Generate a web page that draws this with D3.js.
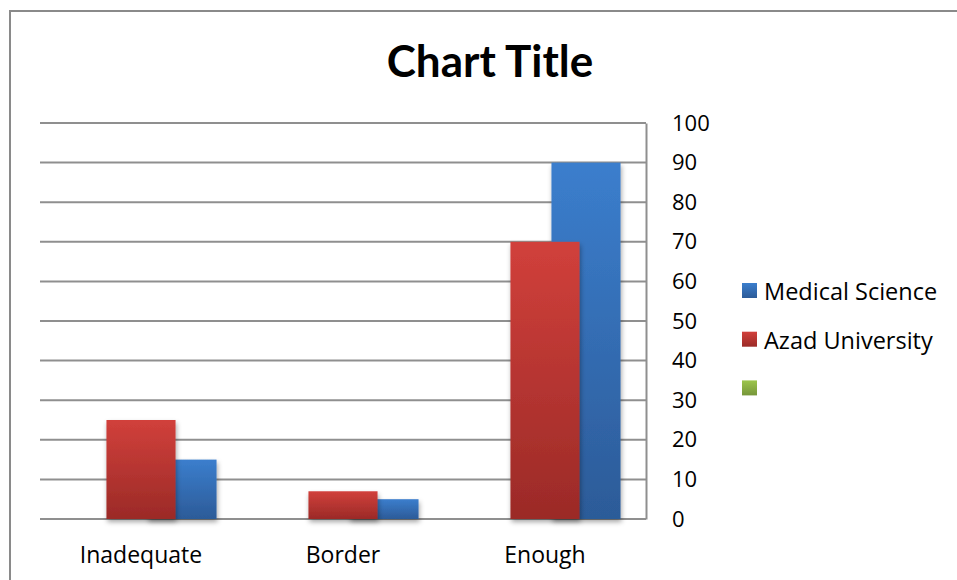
<!DOCTYPE html>
<html lang="en">
  <head>
    <meta charset="utf-8">
    <script src="https://d3js.org/d3.v7.min.js"></script>
    <style>
      body { margin: 0; background: #fff; }
      text { font-family: "Open Sans", Lato, sans-serif; fill: #000; }
    </style>
  </head>
  <body>
    <svg width="957" height="580"></svg>
    <script>
      // data
      var categories = ["Inadequate", "Border", "Enough"];
      var seriesNames = ["Medical Science", "Azad University", ""];
      var medical = [15, 5, 90];
      var azad = [25, 7, 70];
      var third = [0, 0, 0];
      var yTickValues = [0, 10, 20, 30, 40, 50, 60, 70, 80, 90, 100];

      var svg = d3.select("svg");

      // chart frame
      svg.append("rect")
        .attr("x", 10).attr("y", 11)
        .attr("width", 1000).attr("height", 1000)
        .attr("fill", "#fff")
        .attr("stroke", "#8a8a8a")
        .attr("stroke-width", 2);

      // gradients + shadow
      var defs = svg.append("defs");
      function grad(id, top, bottom) {
        var g = defs.append("linearGradient").attr("id", id)
          .attr("x1", 0).attr("y1", 0).attr("x2", 0).attr("y2", 1);
        g.append("stop").attr("offset", "0%").attr("stop-color", top);
        g.append("stop").attr("offset", "100%").attr("stop-color", bottom);
      }
      grad("gBlue", "#3b7ecd", "#2c5b98");
      grad("gRed", "#d1403b", "#9b2a27");
      grad("gGreen", "#9cc54b", "#76963a");
      var f = defs.append("filter").attr("id", "shadow")
        .attr("x", "-20%").attr("y", "-20%").attr("width", "150%").attr("height", "150%");
      f.append("feDropShadow")
        .attr("dx", 1).attr("dy", 3).attr("stdDeviation", 2.5)
        .attr("flood-color", "#000").attr("flood-opacity", 0.35);

      // scales
      var x = d3.scaleBand().domain(categories).range([40, 646]);
      var y = d3.scaleLinear().domain([0, 100]).range([519, 123]);
      // axis on the right reverses the series order inside a group
      var slot = d3.scalePoint().domain(["third", "azad", "medical"])
        .range([-x.bandwidth() * 0.203, x.bandwidth() * 0.203]);
      var barW = x.bandwidth() * 0.342;

      // gridlines
      svg.append("g")
        .selectAll("line")
        .data(yTickValues)
        .enter().append("line")
          .attr("x1", 40).attr("x2", 646)
          .attr("y1", function(d) { return y(d); })
          .attr("y2", function(d) { return y(d); })
          .attr("stroke", "#8f8f8f")
          .attr("stroke-width", 2);

      // value axis on the right
      var yAxis = svg.append("g")
        .attr("transform", "translate(646,0)")
        .call(d3.axisRight(y).tickValues(yTickValues).tickSize(0).tickPadding(26));
      yAxis.select(".domain").attr("stroke", "#8f8f8f").attr("stroke-width", 2);
      yAxis.selectAll("text")
        .style("font-family", "'Open Sans', Lato, sans-serif")
        .attr("font-size", 22)
        .attr("fill", "#000");

      // bars
      function drawSeries(key, values, fill) {
        svg.append("g")
          .attr("filter", "url(#shadow)")
          .selectAll("rect")
          .data(categories.map(function(c, i) { return {cat: c, v: values[i]}; }))
          .enter().append("rect")
            .attr("x", function(d) { return x(d.cat) + x.bandwidth() / 2 + slot(key) - barW / 2; })
            .attr("y", function(d) { return y(d.v); })
            .attr("width", barW)
            .attr("height", function(d) { return y(0) - y(d.v); })
            .attr("fill", fill);
      }
      drawSeries("medical", medical, "url(#gBlue)");
      drawSeries("azad", azad, "url(#gRed)");
      drawSeries("third", third, "url(#gGreen)");

      // category labels
      var xAxis = svg.append("g")
        .attr("transform", "translate(0,519)")
        .call(d3.axisBottom(x).tickSize(0).tickPadding(28));
      xAxis.select(".domain").remove();
      xAxis.selectAll("text")
        .style("font-family", "'Open Sans', Lato, sans-serif")
        .attr("font-size", 23)
        .attr("fill", "#000");

      // title
      svg.append("text")
        .attr("x", 490).attr("y", 77)
        .attr("text-anchor", "middle")
        .style("font-family", "Lato, 'Open Sans', sans-serif")
        .attr("font-size", 44)
        .attr("font-weight", "bold")
        .text("Chart Title");

      // legend
      var legendFills = ["url(#gBlue)", "url(#gRed)", "url(#gGreen)"];
      var legend = svg.append("g")
        .selectAll("g")
        .data(seriesNames)
        .enter().append("g")
          .attr("transform", function(d, i) { return "translate(742," + (291 + i * 48.7) + ")"; });
      legend.append("rect")
        .attr("x", 0).attr("y", -8)
        .attr("width", 15).attr("height", 15)
        .attr("fill", function(d, i) { return legendFills[i]; });
      legend.append("text")
        .attr("x", 22).attr("y", 9)
        .attr("font-size", 23.5)
        .text(function(d) { return d; });
    </script>
  </body>
</html>
